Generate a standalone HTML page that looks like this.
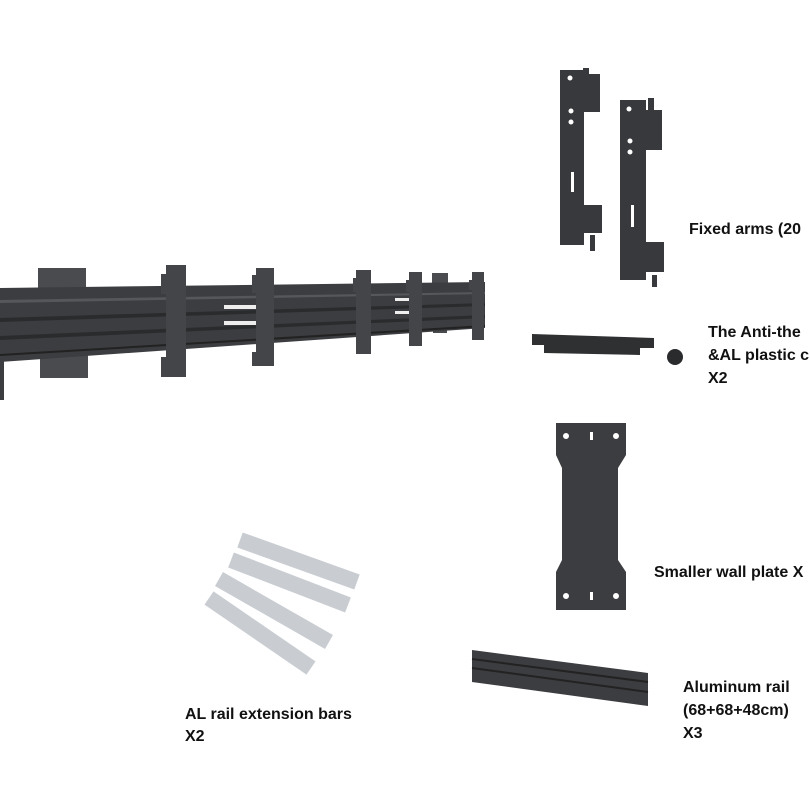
<!DOCTYPE html>
<html><head><meta charset="utf-8"><style>
body{margin:0;background:#fff}
svg{display:block}
text{font-family:"Liberation Sans",sans-serif;font-weight:bold;font-size:16px;fill:#111}
</style></head><body>
<svg width="810" height="810" viewBox="0 0 810 810" xmlns="http://www.w3.org/2000/svg">
<rect width="810" height="810" fill="#fff"/>
<g>
<path d="M38 268 H86 V292 H38 Z" fill="#4a4b4e"/>
<path d="M40 352 H88 V378 H40 Z" fill="#4a4b4e"/>
<path d="M432 273 H448 V290 H432 Z" fill="#4a4b4e"/>
<path d="M433 325 H447 V333 H433 Z" fill="#4a4b4e"/>
<polygon points="0,288 485,282 485,328 0,362" fill="#3c3d40"/>
<polygon points="0,300 485,292 485,294 0,303" fill="#56575a"/>
<polygon points="0,318 485,303 485,306 0,322" fill="#2a2b2d"/>
<polygon points="0,336 485,315 485,318 0,340" fill="#2a2b2d"/>
<line x1="0" y1="355" x2="485" y2="326" stroke="#222" stroke-width="2"/>
<rect x="0" y="360" width="4" height="40" fill="#3c3d40"/>
<rect x="224" y="305" width="36" height="4" fill="#eee"/>
<rect x="224" y="321" width="36" height="4" fill="#eee"/>
<rect x="395" y="298" width="20" height="3" fill="#eee"/>
<rect x="395" y="311" width="20" height="3" fill="#eee"/>
<g fill="#444548">
<rect x="166" y="265" width="20" height="112"/><rect x="161" y="274" width="8" height="20"/><rect x="161" y="357" width="8" height="20"/>
<rect x="256" y="268" width="18" height="98"/><rect x="252" y="275" width="8" height="18"/><rect x="252" y="352" width="8" height="14"/>
<rect x="356" y="270" width="15" height="84"/><rect x="353" y="278" width="6" height="14"/>
<rect x="409" y="272" width="13" height="74"/><rect x="406" y="280" width="6" height="12"/>
<rect x="472" y="272" width="12" height="68"/><rect x="469" y="280" width="5" height="10"/>
</g>
</g>
<g fill="#38393c">
<rect x="560" y="70" width="24" height="175"/><rect x="584" y="74" width="16" height="38"/><rect x="584" y="205" width="18" height="28"/>
<rect x="583" y="68" width="6" height="10"/><rect x="590" y="235" width="5" height="16"/>
<rect x="620" y="100" width="26" height="180"/><rect x="646" y="110" width="16" height="40"/><rect x="646" y="242" width="18" height="30"/>
<rect x="648" y="98" width="6" height="12"/><rect x="652" y="275" width="5" height="12"/>
</g>
<g fill="#fff"><circle cx="570" cy="78" r="2.5"/><circle cx="571" cy="111" r="2.5"/><circle cx="571" cy="122" r="2.5"/><rect x="571" y="172" width="3" height="20"/>
<circle cx="629" cy="109" r="2.5"/><circle cx="630" cy="141" r="2.5"/><circle cx="630" cy="152" r="2.5"/><rect x="631" y="205" width="3" height="22"/></g>
<text x="689" y="234">Fixed arms (20</text>
<polygon points="532,334 654,338 654,348 640,348 640,355 544,353 544,345 532,345" fill="#2f3032"/>
<circle cx="675" cy="357" r="8" fill="#2a2b2d"/>
<rect x="668" y="354" width="8" height="6" fill="#2a2b2d"/>
<text x="708" y="337">The Anti-the</text>
<text x="708" y="360">&amp;AL plastic c</text>
<text x="708" y="383">X2</text>
<polygon points="556,423 626,423 626,455 618,468 618,560 626,572 626,610 556,610 556,572 562,560 562,468 556,455" fill="#3c3d40"/>
<g fill="#fff"><circle cx="566" cy="436" r="3"/><circle cx="616" cy="436" r="3"/><rect x="590" y="432" width="3" height="8"/>
<circle cx="566" cy="596" r="3"/><circle cx="616" cy="596" r="3"/><rect x="590" y="592" width="3" height="8"/></g>
<text x="654" y="577">Smaller wall plate X</text>
<g stroke="#c9cdd2" stroke-width="16" stroke-linecap="butt">
<line x1="240" y1="540" x2="357" y2="582"/>
<line x1="231" y1="560" x2="348" y2="605"/>
<line x1="219" y1="579" x2="329" y2="642"/>
<line x1="209" y1="598" x2="311" y2="668"/>
</g>
<text x="185" y="719">AL rail extension bars</text>
<text x="185" y="741">X2</text>
<polygon points="472,650 648,673 648,706 472,682" fill="#3c3d40"/>
<line x1="472" y1="659" x2="648" y2="682" stroke="#222" stroke-width="2"/>
<line x1="472" y1="668" x2="648" y2="692" stroke="#222" stroke-width="2"/>
<text x="683" y="692">Aluminum rail</text>
<text x="683" y="715">(68+68+48cm)</text>
<text x="683" y="738">X3</text>
</svg>
</body></html>
